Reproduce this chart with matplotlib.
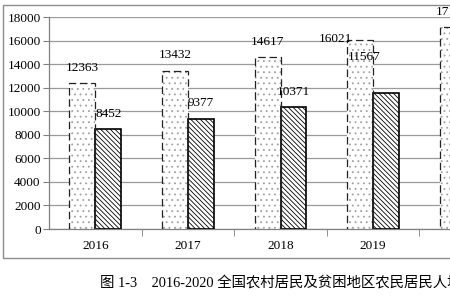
import matplotlib
matplotlib.use('Agg')
import matplotlib.pyplot as plt
from matplotlib.patches import Rectangle
import numpy as np

years = ['2016', '2017', '2018', '2019', '2020']
national = [12363, 13432, 14617, 16021, 17131]
poor_area = [8452, 9377, 10371, 11567, 12588]

caption = '图 1-3    2016-2020 全国农村居民及贫困地区农民居民人均可支配收入'

plt.rcParams['font.family'] = ['Liberation Serif', 'Noto Sans CJK SC']
plt.rcParams['hatch.linewidth'] = 0.6

fig = plt.figure(figsize=(4.5, 3), dpi=100)
fig.patch.set_facecolor('white')

# outer gray frame (runs off the right edge like the scan)
fig.patches.append(Rectangle((3 / 450, 1 - 258 / 300), 1.2, (258 - 5) / 300,
                             transform=fig.transFigure, fill=False,
                             edgecolor='#8c8c8c', lw=1.0))

ax = fig.add_axes([49 / 450, 1 - 229 / 300, 463 / 450, 212 / 300])
x = np.arange(len(years))
w = 0.28

# dotted bars: light gray dots, then a dashed black outline on top
ax.bar(x - w / 2, national, w, facecolor='white', edgecolor='#a0a0a0',
       hatch='...', lw=0, zorder=3)
ax.bar(x - w / 2, national, w, fill=False, edgecolor='#222222',
       linestyle=(0, (6, 3)), lw=0.9, zorder=3.5)
ax.bar(x + w / 2, poor_area, w, facecolor='white', edgecolor='black',
       hatch='\\\\\\\\\\\\\\', lw=1.2, zorder=3)

off = 1300
for i, v in enumerate(national):
    if i == 3:
        ax.text(x[i] - w / 2 - 0.27, v + 150, str(v), ha='center', va='center',
                fontsize=9.5, zorder=4)
    else:
        ax.text(x[i] - w / 2, v + off, str(v), ha='center', va='center',
                fontsize=9.5, zorder=4)
for i, v in enumerate(poor_area):
    if i == 3:
        ax.text(x[i] - w / 2 + 0.04, v + 3050, str(v), ha='center', va='center',
                fontsize=9.5, zorder=4)
    else:
        ax.text(x[i] + w / 2, v + off, str(v), ha='center', va='center',
                fontsize=9.5, zorder=4)

ax.set_xlim(-0.5, len(years) - 0.5)
ax.set_ylim(0, 18000)
ax.set_yticks(range(0, 18001, 2000))
ax.set_xticks(x)
ax.set_xticklabels(years, fontsize=9.5)
ax.set_xticks(np.arange(0.5, len(years) - 0.5, 1), minor=True)
ax.tick_params(axis='x', which='major', length=0, pad=8)
ax.tick_params(axis='x', which='minor', length=5, color='#808080', direction='out')
ax.tick_params(axis='y', length=4, color='#808080', labelsize=9.5, pad=2)
ax.grid(axis='y', color='#9a9a9a', lw=0.9, zorder=0)
for s in ['top', 'right']:
    ax.spines[s].set_visible(False)
for s in ['left', 'bottom']:
    ax.spines[s].set_color('#808080')
    ax.spines[s].set_linewidth(0.9)

fig.text(100 / 450, 1 - 283 / 300, caption, fontsize=10.4, va='center', ha='left')

fig.savefig('out.png', dpi=100)
